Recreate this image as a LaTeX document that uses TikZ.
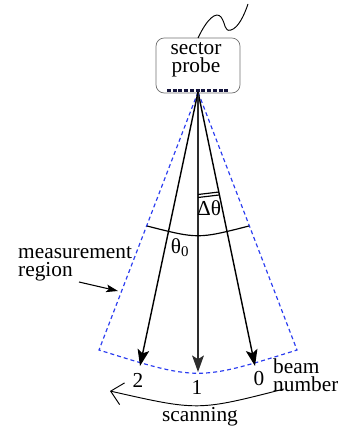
\documentclass[tikz,border=0pt]{standalone}
\usepackage{fontspec}
\setmainfont{Liberation Serif}
\usepackage{tikz}
\usetikzlibrary{arrows.meta}
\definecolor{scanblue}{HTML}{2A3CF0}
\definecolor{probegray}{HTML}{707070}
\definecolor{probedark}{HTML}{14143C}
\tikzset{
  lbl/.style={font=\fontsize{18.2}{15.6}\selectfont,inner sep=0pt},
  ar/.style={-{Stealth[length=14pt,width=10pt,inset=3pt]},line width=1.2pt},
  thinar/.style={-{Stealth[length=10pt,width=6.5pt,inset=2pt]},line width=.9pt},
  region/.style={scanblue,line width=1pt,dash pattern=on 3.4pt off 2.6pt}
}

\begin{document}
\begin{tikzpicture}[x=.03cm,y=-.03cm]
\useasboundingbox (0,0) rectangle (337,432);
% probe
\node[draw=probegray,line width=.6pt,rounded corners=7pt,minimum width=84*.03cm,minimum height=55*.03cm,inner sep=0pt] (probe) at (198,65.5) {};
\node[lbl,align=center] (probetext) at (196,59.5) {sector\\probe};
\coordinate (apex) at (198,92);
\coordinate (arrayL) at (167,90.5); \coordinate (arrayR) at (229,90.5);
\draw[probedark,line width=2.5pt,dash pattern=on 3.3pt off 1.6pt] (arrayL)--(arrayR);
\coordinate (cableA) at (198,38); \coordinate (cableB) at (248,4);
\draw[line width=.8pt] (cableA) .. controls (207,19) and (216,11) .. (221,17) .. controls (226,24) and (224,32) .. (231,30) .. controls (238,28) and (244,16) .. (cableB);
% region
\coordinate (regionL) at (99,350); \coordinate (regionR) at (297,350);
\draw[region] (apex)--(regionL) .. controls (198,381) .. (regionR)--cycle;
% beams
\coordinate (beamA) at (255,366); \coordinate (beamB) at (198,372); \coordinate (beamC) at (140,366);
\draw[ar] (apex)--(beamA);
\draw[ar,probegray!40!black,line width=1.6pt] (apex)--(beamB);
\draw[ar] (apex)--(beamC);
% angles
\coordinate (thetaL) at (147,226); \coordinate (thetaR) at (249,226);
\draw[line width=1pt] (thetaL) .. controls (198,239) .. (thetaR);
\coordinate (deltaA) at (198,194.5); \coordinate (deltaB) at (219,192);
\coordinate (deltaC) at (198,197.5); \coordinate (deltaD) at (219,195);
\draw[line width=1pt] (deltaA)--(deltaB) (deltaC)--(deltaD);
\node[lbl] (deltalabel) at (209,208) {Δθ};
\node[lbl] (thetalabel) at (180,248) {θ\textsubscript{0}};
% labels
\node[lbl,align=left,anchor=west] (regionlabel) at (18,263.5) {measurement\\region};
\coordinate (regionA) at (79,282); \coordinate (regionB) at (118,291);
\draw[thinar] (regionA)--(regionB);
\node[lbl] (beamzero) at (259,379) {0};
\node[lbl] (beamone) at (197,387) {1};
\node[lbl] (beamtwo) at (138,380) {2};
\node[lbl,align=left,anchor=west] (beamlabel) at (273,375) {beam\\number};
\coordinate (scanA) at (284,389); \coordinate (scanB) at (110,391);
\draw[line width=.8pt,-{Straight Barb[length=10pt,width=19pt]}] (scanA) .. controls (198,411) .. (scanB);
\node[lbl] (scanlabel) at (200,417) {scanning};
\end{tikzpicture}
\end{document}
